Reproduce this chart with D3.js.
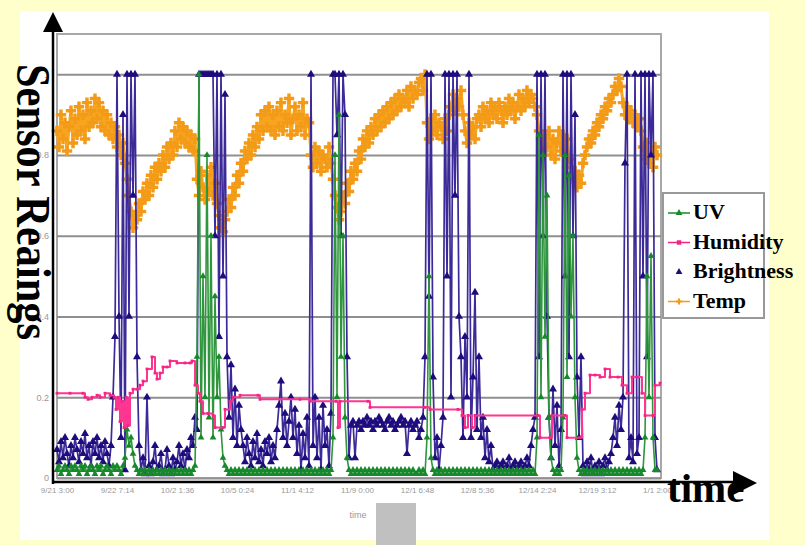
<html>
<head>
<meta charset="utf-8">
<style>
body{margin:0;background:#ffffcc;}
svg{display:block;}
</style>
</head>
<body>
<svg id="chart" width="805" height="545"></svg>
<script src="https://d3js.org/d3.v7.min.js"></script>
<script>
// one reading every sample step
var xTicks = [0,30,60,90,120,150,180,210,240,270,300];
var xTickLabels = ["9/21 3:00","9/22 7:14","10/2 1:36","10/5 0:24","11/1 4:12","11/9 0:00","12/1 6:48","12/8 5:36","12/14 2:24","12/19 3:12","1/1 2:00"];
var yTicks = [0,0.2,0.4,0.6,0.8,1];
var seriesNames = ["UV","Humidity","Brightness","Temp"];

var temp = [
.86,.82,.9,.84,.88,.81,.87,.91,.83,.89,
.85,.92,.86,.9,.84,.93,.87,.91,.88,.94,
.89,.93,.87,.91,.86,.9,.85,.88,.84,.87,
.82,.85,.8,.83,.78,.74,.7,.66,.62,.65,
.64,.68,.66,.71,.69,.73,.7,.75,.72,.77,
.74,.78,.76,.8,.77,.82,.79,.83,.8,.86,
.82,.88,.84,.87,.83,.86,.82,.85,.81,.84,
.74,.7,.76,.72,.69,.75,.71,.77,.7,.73,
.68,.65,.62,.61,.64,.66,.69,.67,.72,.7,
.75,.73,.78,.76,.81,.79,.83,.8,.85,.82,
.87,.84,.9,.86,.91,.87,.92,.86,.9,.85,
.91,.87,.93,.86,.9,.88,.94,.85,.89,.92,
.86,.9,.87,.93,.85,.89,.88,.8,.77,.82,
.78,.81,.76,.8,.79,.77,.82,.78,.74,.7,
.67,.64,.66,.7,.68,.73,.71,.76,.74,.78,
.76,.81,.79,.84,.82,.86,.83,.87,.85,.89,
.86,.9,.87,.91,.88,.92,.89,.93,.9,.94,
.91,.95,.92,.94,.93,.96,.92,.97,.94,.96,
.95,.98,.99,.96,1.0,.88,.84,.89,.86,.9,
.85,.88,.87,.84,.89,.86,.9,.92,.95,.91,
.94,.92,.96,.9,.86,.83,.88,.85,.87,.84,
.89,.9,.87,.92,.89,.91,.88,.93,.9,.92,
.89,.93,.91,.88,.92,.9,.94,.91,.93,.89,
.92,.95,.91,.94,.92,.96,.93,.95,.94,.92,
.9,.86,.84,.81,.85,.82,.86,.8,.84,.79,
.83,.86,.81,.85,.8,.84,.79,.77,.74,.76,
.72,.75,.73,.78,.8,.82,.84,.83,.86,.85,
.88,.87,.9,.89,.92,.91,.94,.93,.95,.97,
.96,.99,.97,.93,.9,.92,.89,.91,.88,.9,
.87,.89,.86,.82,.79,.83,.78,.81,.77,.82,
.8];

var brightness = [
.07,.04,.09,.05,.1,.06,.03,.08,.05,.1,
.07,.04,.09,.06,.11,.05,.08,.03,.09,.06,
.1,.05,.08,.04,.09,.06,.03,.08,.2,.35,
1,.4,.1,.9,.02,1,.4,1,.7,1,
.3,.08,.02,.05,.01,.2,.03,.01,.04,.08,
.02,.03,.06,.01,.02,.07,.03,.01,.05,.02,
.04,.08,.03,.06,.02,.07,.05,.1,.08,.15,
.12,1,1,1,1,1,1,1,1,.6,
1,.35,1,.5,.95,.3,.15,.28,.1,.22,
.08,.18,.12,.08,.04,.1,.06,.03,.09,.05,
.11,.04,.07,.03,.09,.06,.1,.04,.08,.05,
.12,.18,.24,.1,.16,.08,.14,.2,.1,.17,
.06,.13,.02,.11,.05,.15,.03,1,.08,.2,
.05,.15,.02,.18,.08,.12,.03,.16,1,1,
.85,1,.6,1,.9,.3,.05,.13,.14,.05,
.13,.14,.12,.14,.13,.15,.13,.14,.12,.14,
.13,.15,.14,.13,.12,.14,.15,.13,.14,.12,
.13,.14,.15,.13,.14,.06,.13,.14,.12,.13,
.14,.1,.12,.15,.3,1,.45,1,.25,.05,
.1,.02,.08,.15,1,.5,1,.2,1,.7,
1,.4,.3,.1,.35,.2,1,.1,.25,.46,
.12,.3,.1,.15,.05,.12,.04,.08,.02,.03,
.04,.02,.03,.04,.02,.03,.05,.02,.03,.04,
.02,.03,.04,.02,.03,.05,.03,.08,.12,.15,
1,.3,1,.6,1,.4,.15,.05,.22,.08,
.18,.03,.12,1,.5,1,.3,1,.6,.9,
.25,.1,.3,.03,.01,.04,.02,.05,.01,.03,
.02,.04,.01,.03,.05,.02,.04,.06,.1,.15,
.08,.18,.12,.2,.78,1,.05,.1,.04,1,
.06,.1,1,.5,1,.3,1,.8,1,.1,
.02];

var uv = [
.02,.03,.01,.02,.03,.02,.01,.03,.02,.03,
.02,.01,.03,.02,.03,.01,.02,.03,.02,.01,
.03,.02,.03,.01,.02,.03,.02,.01,.03,.02,
.03,.02,.01,.03,.05,.12,.08,.1,.06,.03,
.02,.01,.02,.01,.02,.01,.02,.01,.02,.01,
.02,.01,.02,.01,.02,.01,.02,.01,.02,.01,
.02,.01,.02,.01,.02,.01,.02,.01,.02,.03,
.3,1,.1,.5,.2,.8,.15,.6,.1,.45,
.2,.3,.12,.05,.03,.02,.01,.02,.01,.02,
.01,.02,.01,.02,.01,.02,.01,.02,.01,.02,
.01,.02,.01,.02,.01,.02,.01,.02,.01,.02,
.01,.02,.01,.02,.01,.02,.01,.02,.01,.02,
.01,.02,.01,.02,.01,.02,.01,.02,.01,.02,
.01,.02,.01,.02,.01,.02,.01,.02,.1,.8,
.2,.9,.3,.6,.15,.05,.02,.01,.02,.01,
.02,.01,.02,.01,.02,.01,.02,.01,.02,.01,
.02,.01,.02,.01,.02,.01,.02,.01,.02,.01,
.02,.01,.02,.01,.02,.01,.02,.01,.02,.01,
.01,.02,.01,.02,.01,.1,.5,.05,.02,.01,
.02,.01,.02,.01,.02,.01,.02,.01,.02,.01,
.02,.01,.02,.01,.02,.01,.02,.01,.02,.01,
.02,.01,.02,.01,.02,.01,.02,.01,.02,.01,
.02,.01,.02,.01,.02,.01,.02,.01,.02,.01,
.02,.01,.02,.01,.02,.01,.02,.01,.02,.01,
.1,.85,.2,.8,.35,.7,.15,.05,.02,.01,
.02,.01,.02,.15,.8,.25,.75,.4,.6,.2,
.05,.02,.01,.02,.01,.02,.01,.02,.01,.02,
.01,.02,.01,.02,.01,.02,.01,.02,.01,.02,
.01,.02,.01,.02,.01,.02,.01,.02,.01,.02,
.01,.02,.01,.02,.1,.5,.2,.55,.1,.02,
.02];

// humidity only changes in steps, so it is kept as (sample, value) pairs
var humIdx = [0,6.5,13,14,15.5,17.5,20,21.5,24,26.5,28.5,29.5,30.5,31.5,32.5,33.5,34.5,35.5,36.5,38,40,41.5,43,45,47.5,49,50,51.5,53,55,56.5,60,64,66.5,67.5,69,70.5,71.5,73,75.5,78,79,83,84,86.5,88,91.5,100.5,101.5,121.5,126.5,139.5,140.5,141.5,155.5,156.5,184,186.5,200.5,202.5,204,205.5,207.5,209,240.5,241.5,246.5,247.5,254,255,261.5,262.5,264,266.5,269,271.5,274,276.5,280.5,282.5,285,287.5,290,292.5,294,298,299,301.5];
var humVal = [.21,.21,.21,.2,.195,.2,.205,.2,.21,.205,.2,.17,.2,.14,.19,.125,.2,.13,.21,.22,.22,.23,.24,.27,.3,.26,.245,.26,.275,.275,.29,.285,.285,.285,.29,.23,.21,.19,.16,.16,.155,.125,.125,.17,.19,.2,.205,.205,.195,.195,.19,.19,.125,.19,.19,.175,.175,.17,.17,.155,.125,.155,.125,.155,.155,.1,.1,.155,.155,.1,.1,.17,.21,.255,.255,.25,.27,.25,.25,.23,.21,.25,.25,.21,.155,.155,.23,.235];

var svg = d3.select('#chart');
var x = d3.scaleLinear().domain([0,302]).range([57,661]);
var y = d3.scaleLinear().domain([0,1.1]).range([478,34]);

svg.append('rect').attr('width',805).attr('height',545).attr('fill','#ffffcc');
svg.append('rect').attr('x',20).attr('y',11).attr('width',749).attr('height',529).attr('fill','#fff');

svg.append('rect')
	.attr('x',57).attr('y',34).attr('width',604).attr('height',444)
	.attr('fill','#fff').attr('stroke','#a8a8a8').attr('stroke-width',2);

var gy = svg.append('g')
	.attr('transform','translate(57,0)')
	.call(d3.axisLeft(y).tickValues(yTicks).tickSize(-604).tickPadding(8).tickFormat(d3.format('')));
gy.select('.domain').remove();
gy.selectAll('line').attr('stroke','#8f8f8f').attr('stroke-width',2);
gy.selectAll('text').attr('fill','#999').style('font-family','"Liberation Sans"').style('font-size','9px');

var gx = svg.append('g')
	.attr('transform','translate(0,478)')
	.call(d3.axisBottom(x).tickValues(xTicks).tickSize(0).tickPadding(9)
		.tickFormat(function(d,i){return xTickLabels[i];}));
gx.select('.domain').remove();
gx.selectAll('text').attr('fill','#999').style('font-family','"Liberation Sans"').style('font-size','8px');

function drawSeries(vals,xs,lineColor,lineW,markColor,symbol,size,curve){
	var pts = vals.map(function(v,i){return [x(xs?xs[i]:i),y(v)];});
	var ln = d3.line();
	if(curve)ln.curve(curve);
	svg.append('path')
		.attr('d',ln(pts))
		.attr('fill','none')
		.attr('stroke',lineColor)
		.attr('stroke-width',lineW)
		.attr('stroke-linejoin','round');
	svg.append('g').selectAll('path')
		.data(pts)
		.enter()
		.append('path')
		.attr('transform',function(d){return 'translate('+d[0]+','+d[1]+')';})
		.attr('d',d3.symbol().type(symbol).size(size))
		.attr('fill',markColor);
}

drawSeries(temp,null,'#f7a51f',3,'#f39a17',d3.symbolCross,60);
drawSeries(brightness,null,'#3b2a98',1.7,'#1e0c7c',d3.symbolTriangle,28);
drawSeries(uv,null,'#2f963d',1.6,'#168a2a',d3.symbolTriangle,20);
drawSeries(humVal,humIdx,'#ff3592',2,'#f02585',d3.symbolSquare,8,d3.curveStepAfter);

// hand drawn axes of the slide
svg.append('line').attr('x1',53).attr('y1',484).attr('x2',53).attr('y2',30)
	.attr('stroke','#000').attr('stroke-width',2.5);
svg.append('path').attr('d','M43,32L53,12L63,32Z').attr('fill','#000');
svg.append('line').attr('x1',52).attr('y1',482).attr('x2',736).attr('y2',482)
	.attr('stroke','#000').attr('stroke-width',2.5);
svg.append('path').attr('d','M733,471L757,483L733,495Z').attr('fill','#000');

svg.append('text')
	.attr('transform','translate(17,64) rotate(90) scale(1,1.2)')
	.attr('textLength',276).attr('lengthAdjust','spacingAndGlyphs')
	.style('font-family','"Liberation Serif"').style('font-weight','bold').style('font-size','40px')
	.text('Sensor Reaings');
svg.append('text')
	.attr('x',667).attr('y',502)
	.style('font-family','"Liberation Serif"').style('font-weight','bold').style('font-size','41px')
	.text('time');

svg.append('text').attr('x',358).attr('y',518).attr('text-anchor','middle')
	.attr('fill','#999').style('font-family','"Liberation Sans"').style('font-size','9px').text('time');
svg.append('rect').attr('x',376).attr('y',503).attr('width',40).attr('height',42).attr('fill','#c0c0c0');

// legend
svg.append('rect').attr('x',663).attr('y',193).attr('width',101).attr('height',125)
	.attr('fill','#fff').attr('stroke','#999').attr('stroke-width',2);
var legColors = ['#168a2a','#f02585','#1e0c7c','#f39a17'];
var legSymbols = [d3.symbolTriangle,d3.symbolSquare,d3.symbolTriangle,d3.symbolCross];
var leg = svg.append('g').selectAll('g')
	.data(seriesNames)
	.enter()
	.append('g')
	.attr('transform',function(d,i){return 'translate(0,'+(213+i*29.5)+')';});
leg.filter(function(d){return d!=='Brightness';})
	.append('line')
	.attr('x1',668).attr('x2',690)
	.attr('stroke',function(d){return legColors[seriesNames.indexOf(d)];})
	.attr('stroke-width',1.5);
leg.append('path')
	.attr('transform','translate(679,0)')
	.attr('d',function(d,i){return d3.symbol().type(legSymbols[i]).size(20)();})
	.attr('fill',function(d,i){return legColors[i];});
leg.append('text')
	.attr('x',693).attr('y',6)
	.style('font-family','"Liberation Serif"').style('font-weight','bold').style('font-size','22px')
	.text(function(d){return d;});
</script>
</body>
</html>
